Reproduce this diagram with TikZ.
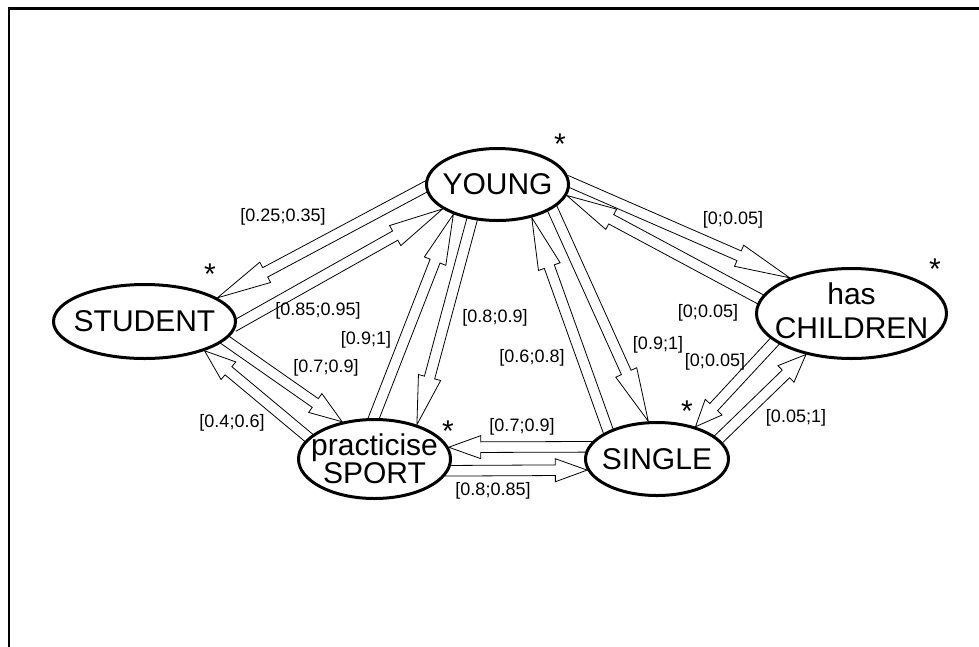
\documentclass[tikz,border=0pt]{standalone}
\usepackage{fontspec}
\setmainfont{Liberation Sans}
\usetikzlibrary{shapes.geometric,calc}
\pgfdeclarelayer{bg}
\pgfsetlayers{bg,main}

% half widths of the hollow arrows
\newcommand\shaftw{5.3pt}
\newcommand\headw{11.5pt}
% hollow (outlined) arrow from #2 to #3; #1 = head length as a fraction of the arrow
\newcommand\harrow[3][0.23]{%
  \draw[harrowline] let \p1=(#2), \p2=(#3),
      \p3=($(\p2)!#1!(\p1)$), \p4=($(\p1)!-4pt!(\p2)$) in
    ($(\p4)!\shaftw!90:(\p2)$) -- ($(\p3)!\shaftw!90:(\p2)$) -- ($(\p3)!\headw!90:(\p2)$)
    -- (\p2)
    -- ($(\p3)!\headw!-90:(\p2)$) -- ($(\p3)!\shaftw!-90:(\p2)$) -- ($(\p4)!\shaftw!-90:(\p2)$);}

\tikzset{
  state/.style={ellipse, draw, line width=3pt, fill=white, inner sep=0pt},
  statetext/.style={font=\fontsize{30}{30}\selectfont, align=center, inner sep=0pt},
  lbl/.style={font=\fontsize{18}{18}\selectfont, inner sep=0pt},
  starlbl/.style={font=\fontsize{30}{30}\selectfont, inner sep=0pt, anchor=base},
  harrowline/.style={line width=0.8pt, line join=miter},
  frametop/.style={line width=3pt},
  frameleft/.style={line width=2.3pt}
}

\begin{document}
\begin{tikzpicture}[x=1pt, y=-1pt]
  \useasboundingbox (0,0) rectangle (979,646);

  % frame
  \coordinate (fcorner) at (9,8);
  \coordinate (fright) at (990,8);
  \coordinate (fbottom) at (9,660);
  \draw[frametop] ([xshift=-1.15pt]fcorner) -- (fright);
  \draw[frameleft] ([yshift=1.5pt]fcorner) -- (fbottom);

  % states
  \node[state, minimum width=142pt, minimum height=72pt] (young) at (497.5,184.5) {};
  \node[statetext] (youngtxt) at (young) {YOUNG};
  \node[state, minimum width=182pt, minimum height=74pt] (student) at (144.5,321.5) {};
  \node[statetext] (studenttxt) at (student) {STUDENT};
  \node[state, minimum width=152pt, minimum height=79pt] (sport) at (374.5,459) {};
  \node[statetext, font=\fontsize{30}{28}\selectfont] (sporttxt) at (374.5,458.5) {practicise\\SPORT};
  \node[state, minimum width=143pt, minimum height=73pt] (single) at (657,459) {};
  \node[statetext] (singletxt) at (single) {SINGLE};
  \node[state, minimum width=190pt, minimum height=90pt] (children) at (851.5,313.5) {};
  \node[statetext, font=\fontsize{30}{34}\selectfont] (childrentxt) at (851.5,311) {has\\CHILDREN};

  % stars
  \node[starlbl] (ystar) at (560,154) {*};
  \node[starlbl] (ststar) at (210,284) {*};
  \node[starlbl] (chstar) at (935,279) {*};
  \node[starlbl] (sistar) at (687,421) {*};
  \node[starlbl] (spstar) at (448,441) {*};

  % transitions
  \begin{pgfonlayer}{bg}
    \harrow{young.182}{student.18}
    \harrow{student.358}{young.204}
    \harrow{student.347}{sport.131}
    \harrow{sport.162}{student.334}
    \harrow{sport.91}{young.214}
    \harrow{young.234}{sport.39}
    \harrow{single.150}{young.316}
    \harrow{young.336}{single.103}
    \harrow{young.2}{children.150}
    \harrow{children.171}{young.351}
    \harrow{children.200}{single.40}
    \harrow{single.18}{children.222}
    \harrow{single.170}{sport.9}
    \harrow{sport.351}{single.189}
  \end{pgfonlayer}

  % interval labels
  \node[lbl] (l1) at (283,217) {[0.25;0.35]};
  \node[lbl] (l2) at (318,311) {[0.85;0.95]};
  \node[lbl] (l3) at (366,340) {[0.9;1]};
  \node[lbl] (l4) at (495,318) {[0.8;0.9]};
  \node[lbl] (l5) at (326,368) {[0.7;0.9]};
  \node[lbl] (l6) at (232,423) {[0.4;0.6]};
  \node[lbl] (l7) at (532,358) {[0.6;0.8]};
  \node[lbl] (l8) at (658,345) {[0.9;1]};
  \node[lbl] (l9) at (733,220) {[0;0.05]};
  \node[lbl] (l10) at (708,313) {[0;0.05]};
  \node[lbl] (l11) at (715,362) {[0;0.05]};
  \node[lbl] (l12) at (796,418) {[0.05;1]};
  \node[lbl] (l13) at (522,427) {[0.7;0.9]};
  \node[lbl] (l14) at (493,491) {[0.8;0.85]};
\end{tikzpicture}
\end{document}
